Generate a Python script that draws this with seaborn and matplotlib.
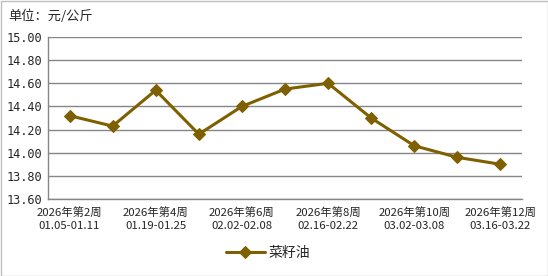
import matplotlib
matplotlib.use("Agg")
import matplotlib.pyplot as plt
import seaborn as sns
import pandas as pd
import numpy as np

weeks = ["2026年第2周", "2026年第3周", "2026年第4周", "2026年第5周", "2026年第6周",
         "2026年第7周", "2026年第8周", "2026年第9周", "2026年第10周", "2026年第11周", "2026年第12周"]
dates = ["01.05-01.11", "01.12-01.18", "01.19-01.25", "01.26-02.01", "02.02-02.08",
         "02.09-02.15", "02.16-02.22", "02.23-03.01", "03.02-03.08", "03.09-03.15", "03.16-03.22"]
prices = [14.32, 14.23, 14.54, 14.16, 14.40, 14.55, 14.60, 14.30, 14.06, 13.96, 13.90]
series_name = "菜籽油"
yticks = [13.60, 13.80, 14.00, 14.20, 14.40, 14.60, 14.80, 15.00]

sns.set_theme(style="white")
plt.rcParams['font.family'] = ['Noto Sans CJK SC', 'DejaVu Sans']

labels = [f"{w}\n{d}" for w, d in zip(weeks, dates)]
df = pd.DataFrame({"week": labels, "price": prices, "series": series_name})

fig = plt.figure(figsize=(5.48, 2.76), dpi=100)
ax = fig.add_axes([48/548, 1-199/276, (522-48)/548, (199-37)/276])

color = "#7F6000"
sns.lineplot(data=df, x="week", y="price", hue="series", palette=[color],
             marker="D", markersize=6, markeredgecolor=color, linewidth=2.2,
             sort=False, ax=ax)

n = len(labels)
ax.set_xlim(-0.5, n - 0.5)
ax.set_ylim(yticks[0], yticks[-1])
ax.set_yticks(yticks)
ax.set_yticklabels([f"{v:.2f}" for v in yticks], fontsize=8.6, family=['DejaVu Sans Mono', 'DejaVu Sans'])
ax.set_xticks(range(0, n, 2))
ax.set_xticklabels([labels[i] for i in range(0, n, 2)], fontsize=8.2, linespacing=1.35)
ax.set_xticks(np.arange(-0.5, n, 1.0), minor=True)
ax.tick_params(axis="x", which="major", length=0, pad=6)
ax.tick_params(axis="x", which="minor", length=4, color="#868686", width=1, direction="out")
ax.tick_params(axis="y", length=0, pad=4)
ax.set_xlabel("")
ax.set_ylabel("")
ax.yaxis.grid(True, color="#868686", linewidth=1)
ax.set_axisbelow(True)
for s in ["top", "right"]:
    ax.spines[s].set_visible(False)
for s in ["left", "bottom"]:
    ax.spines[s].set_color("#868686")
    ax.spines[s].set_linewidth(1)

leg = ax.legend(loc="center", frameon=False, fontsize=10, handlelength=2.8, handletextpad=0.3)
leg.set_bbox_to_anchor((268/548, 1-253/276), transform=fig.transFigure)

fig.text(8/548, 1-16/276, "单位：元/公斤", fontsize=9.5, va="center", ha="left")

fig.patches.append(plt.Rectangle((0.5/548, 0.5/276), 1-1/548, 1-1/276, transform=fig.transFigure,
                                 fill=False, edgecolor="#BFBFBF", linewidth=1))

fig.savefig("out.png", dpi=100)
